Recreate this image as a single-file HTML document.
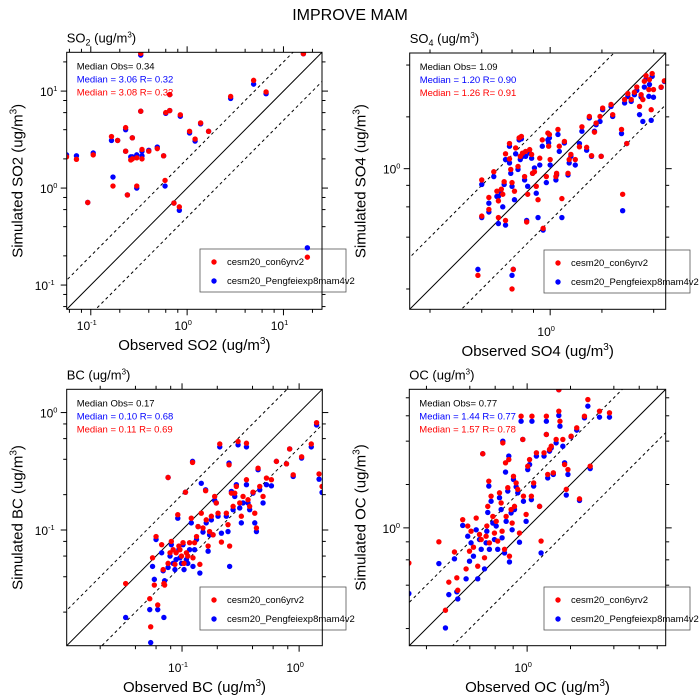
<!DOCTYPE html>
<html><head><meta charset="utf-8"><style>
html,body{margin:0;padding:0;background:#fff;overflow:hidden;}
svg{display:block;font-family:"Liberation Sans",sans-serif;}
</style></head><body>
<svg id="chart" width="700" height="700" viewBox="0 0 700 700" xmlns="http://www.w3.org/2000/svg">
<text x="350" y="20" font-size="16" text-anchor="middle">IMPROVE MAM</text>
</svg>
<script>
// ---- SO2 data ----
const so2Obs = [0.056,0.071,0.106,0.093,0.164,0.17,0.19,0.23,0.23,0.24,0.26,0.27,0.27,0.30,0.30,0.33,0.33,0.34,0.34,0.40,0.49,0.57,0.59,0.60,0.66,0.66,0.73,0.83,0.85,1.06,1.21,1.38,1.67,2.83,4.9,6.6,16.1,17.7];
const so2Red = [2.1,1.98,2.2,0.71,3.4,1.05,3.1,4.2,2.4,0.85,1.95,3.3,2.0,2.05,1.05,6.2,24.5,2.5,2.0,2.4,2.55,2.15,1.2,6.0,9.2,6.3,0.7,0.64,5.7,3.85,3.2,4.7,3.85,8.8,12.9,9.8,24.3,0.194];
const so2Blue = [2.2,2.15,2.3,0.71,3.1,1.3,3.1,4.0,2.4,0.85,2.1,3.3,2.1,2.2,1.0,6.2,23.5,2.4,2.15,2.45,2.65,2.15,1.05,5.9,9.2,6.3,0.7,0.59,5.5,3.7,3.05,4.6,3.85,8.4,11.8,9.4,24.3,0.242];
// ---- SO4 data ----
const so4Obs = [0.40,0.40,0.38,0.44,0.44,0.47,0.49,0.50,0.50,0.52,0.53,0.54,0.55,0.55,0.58,0.58,0.59,0.60,0.60,0.61,0.62,0.63,0.65,0.66,0.67,0.68,0.69,0.71,0.72,0.73,0.74,0.76,0.78,0.79,0.81,0.83,0.85,0.87,0.90,0.91,0.95,0.97,0.98,0.99,1.0,1.08,1.09,1.11,1.13,1.17,1.21,1.27,1.29,1.32,1.40,1.48,1.53,1.63,1.69,1.74,1.81,1.85,1.95,1.98,2.02,2.26,2.31,2.60,2.64,2.71,2.79,2.83,2.96,3.09,3.19,3.31,3.38,3.46,3.53,3.61,3.75,3.78,3.87,3.92,3.99,4.42,4.62];
const so4Red = [0.86,0.53,0.24,0.68,0.58,0.96,0.74,0.65,0.52,0.76,0.71,0.84,0.50,1.22,1.40,1.14,0.99,0.83,0.20,0.26,0.74,1.32,1.03,1.51,1.18,1.54,1.23,0.90,1.26,0.49,0.71,1.29,1.21,0.94,0.96,0.79,0.66,1.15,1.47,0.45,0.90,1.61,1.35,1.58,1.13,0.90,0.94,1.69,1.35,0.67,1.44,0.94,1.13,1.21,1.13,1.34,1.75,1.33,2.01,1.19,1.63,1.84,2.01,1.18,2.25,2.36,2.06,1.69,0.71,2.52,1.40,2.73,2.52,2.78,2.98,2.30,2.69,2.52,3.22,3.47,2.88,3.29,2.20,3.57,2.88,2.98,3.24];
const so4Blue = [0.81,0.52,0.26,0.63,0.56,0.90,0.69,0.69,0.48,0.72,0.60,0.81,0.47,1.13,1.35,1.08,0.94,0.79,0.24,0.26,0.66,1.22,0.99,1.47,1.13,1.49,1.18,0.86,1.18,0.50,0.79,1.23,1.15,0.94,1.01,0.72,0.52,1.05,1.35,0.44,0.83,1.47,1.41,1.51,1.05,0.86,0.92,1.58,1.26,0.52,1.41,0.92,1.08,1.18,1.05,1.40,1.65,1.28,1.97,1.18,1.65,1.80,1.88,1.18,2.20,2.30,2.01,1.60,0.57,2.41,1.40,2.63,2.46,2.69,2.85,2.06,2.61,1.88,2.98,3.32,2.63,3.08,1.91,3.44,2.60,2.97,3.21];
// ---- BC data ----
const bcObs = [0.033,0.054,0.053,0.056,0.058,0.060,0.062,0.067,0.069,0.070,0.071,0.076,0.076,0.079,0.081,0.084,0.087,0.089,0.092,0.094,0.096,0.099,0.102,0.104,0.107,0.109,0.112,0.116,0.120,0.123,0.124,0.128,0.133,0.137,0.142,0.146,0.151,0.159,0.161,0.167,0.172,0.178,0.184,0.19,0.196,0.203,0.21,0.217,0.239,0.247,0.252,0.255,0.264,0.273,0.282,0.291,0.301,0.311,0.321,0.332,0.355,0.355,0.366,0.378,0.404,0.418,0.432,0.446,0.461,0.492,0.526,0.58,0.64,0.78,0.83,0.89,1.05,1.27,1.41,1.48,1.57];
const bcRed = [0.035,0.015,0.026,0.058,0.034,0.088,0.023,0.075,0.046,0.035,0.034,0.28,0.052,0.064,0.080,0.068,0.051,0.064,0.135,0.073,0.068,0.060,0.078,0.052,0.21,0.064,0.060,0.078,0.126,0.376,0.058,0.078,0.088,0.107,0.051,0.139,0.104,0.216,0.122,0.073,0.097,0.131,0.091,0.193,0.17,0.139,0.54,0.079,0.139,0.111,0.359,0.073,0.206,0.159,0.206,0.235,0.567,0.17,0.131,0.193,0.548,0.268,0.181,0.159,0.21,0.139,0.104,0.336,0.235,0.193,0.277,0.268,0.384,0.366,0.49,0.295,0.42,0.54,0.82,0.30,0.235];
const bcBlue = [0.018,0.011,0.021,0.049,0.038,0.083,0.021,0.064,0.045,0.018,0.037,0.28,0.048,0.060,0.075,0.052,0.046,0.056,0.126,0.068,0.058,0.052,0.075,0.046,0.21,0.056,0.052,0.068,0.115,0.384,0.049,0.068,0.083,0.107,0.043,0.25,0.096,0.22,0.115,0.066,0.091,0.122,0.091,0.179,0.17,0.131,0.51,0.094,0.131,0.097,0.371,0.049,0.213,0.149,0.193,0.243,0.531,0.154,0.115,0.17,0.51,0.243,0.17,0.149,0.206,0.115,0.097,0.326,0.22,0.17,0.243,0.238,0.384,0.366,0.49,0.286,0.41,0.51,0.785,0.271,0.209];
// ---- OC data ----
const ocObs = [0.151,0.244,0.271,0.286,0.313,0.325,0.33,0.357,0.377,0.387,0.398,0.408,0.424,0.443,0.454,0.467,0.48,0.492,0.506,0.519,0.525,0.533,0.542,0.547,0.562,0.578,0.593,0.61,0.625,0.643,0.66,0.67,0.678,0.697,0.708,0.715,0.734,0.746,0.754,0.774,0.787,0.804,0.817,0.839,0.861,0.885,0.908,0.933,0.943,0.984,1.01,1.04,1.07,1.08,1.11,1.16,1.22,1.25,1.31,1.36,1.36,1.39,1.43,1.47,1.52,1.59,1.66,1.69,1.77,1.82,1.87,1.92,2.02,2.21,2.31,2.50,2.64,2.74,3.18,3.73,1.66];
const ocRed = [0.57,0.80,0.268,0.42,0.68,0.45,0.369,1.14,0.519,1.03,0.689,0.948,0.734,1.17,0.542,0.90,0.83,3.27,0.62,0.875,1.03,1.41,2.11,0.787,1.66,1.20,0.92,1.11,0.81,1.75,1.49,0.948,3.89,0.71,2.83,1.20,1.90,2.98,0.636,1.34,1.08,2.28,1.41,2.05,1.85,0.92,5.96,4.11,1.66,1.24,2.68,2.98,1.66,5.96,2.05,3.32,1.41,0.81,3.32,5.96,4.45,2.35,3.50,3.69,2.41,4.11,6.46,5.5,4.11,2.75,1.85,2.54,4.33,4.95,1.59,5.96,7.78,2.68,6.46,6.29,9.1];
const ocBlue = [0.35,0.565,0.202,0.344,0.61,0.36,0.321,1.04,0.443,0.875,0.587,0.787,0.636,0.97,0.443,0.83,0.71,3.27,0.519,0.787,0.948,1.28,1.95,0.71,1.53,1.08,0.83,1.03,0.71,1.62,1.34,0.853,4.0,0.67,2.44,1.11,1.80,3.15,0.58,1.27,0.97,2.17,1.34,1.93,1.75,0.795,5.5,4.11,1.53,1.11,2.54,2.75,1.57,5.5,1.95,3.15,1.41,0.67,3.15,5.5,4.45,2.22,3.41,3.59,2.35,3.89,6.03,5.08,3.69,2.83,1.69,2.35,4.29,4.77,1.55,5.81,7.0,2.58,5.87,5.87,9.1];

// ---- panel text ----
const panelNames = ["SO2","SO4","BC","OC"];
const medObs = ["0.34","1.09","0.17","0.77"];
const medBlue = ["3.06","1.20","0.10","1.44"];
const rBlue = ["0.32","0.90","0.68","0.77"];
const medRed = ["3.08","1.26","0.11","1.57"];
const rRed = ["0.32","0.91","0.69","0.78"];

const NS = "http://www.w3.org/2000/svg";
const svg = document.getElementById("chart");
function el(tag, attrs, parent){
  const e = document.createElementNS(NS, tag);
  for (const k in attrs) e.setAttribute(k, attrs[k]);
  (parent||svg).appendChild(e);
  return e;
}
function sciLabel(parent, x, y, exp, anchor, size){
  const t = el("text",{x:x,y:y,"font-size":size,"text-anchor":anchor},parent);
  t.appendChild(document.createTextNode("10"));
  const s = el("tspan",{dy:-5,"font-size":size*0.62},t);
  s.textContent = exp;
  return t;
}

const layouts = [
  {x0:66.7,x1:322,y0:52.3,y1:309.3,lmin:-1.25,lmax:1.40,majors:[-1,0,1],name:"so2",obs:so2Obs,red:so2Red,blue:so2Blue,xt:330,yt:62,title:"SO",sub:"2",xlab:"Observed SO2",ylab:"Simulated SO2",lx:200,ly:249},
  {x0:409.7,x1:665.7,y0:53,y1:309.3,lmin:-0.817,lmax:0.672,majors:[0],name:"so4",obs:so4Obs,red:so4Red,blue:so4Blue,xt:336,yt:402,title:"SO",sub:"4",xlab:"Observed SO4",ylab:"Simulated SO4",lx:544,ly:250},
  {x0:66.7,x1:322.3,y0:389.3,y1:645.7,lmin:-1.985,lmax:0.198,majors:[-1,0],name:"bc",obs:bcObs,red:bcRed,blue:bcBlue,xt:672,yt:62,title:"BC",sub:"",xlab:"Observed BC",ylab:"Simulated BC",lx:200,ly:587},
  {x0:409.3,x1:665.7,y0:389.3,y1:645.7,lmin:-0.818,lmax:0.962,majors:[0],name:"oc",obs:ocObs,red:ocRed,blue:ocBlue,xt:672,yt:402,title:"OC",sub:"",xlab:"Observed OC",ylab:"Simulated OC",lx:544,ly:587}
];

layouts.forEach((P,i)=>{
  const g = el("g",{});
  
  
  const sx = v => P.x0 + (Math.log10(v)-P.lmin)/(P.lmax-P.lmin)*(P.x1-P.x0);
  const sy = v => P.y1 - (Math.log10(v)-P.lmin)/(P.lmax-P.lmin)*(P.y1-P.y0);
  const clip = el("clipPath",{id:"clip"+i},g);
  el("rect",{x:P.x0,y:P.y0,width:P.x1-P.x0,height:P.y1-P.y0},clip);
  // reference lines
  const lines = el("g",{"clip-path":"url(#clip"+i+")"},g);
  const lo = Math.pow(10,P.lmin-1), hi = Math.pow(10,P.lmax+1);
  [[1,"none"],[2,"3,3"],[0.5,"3,3"]].forEach(([f,d])=>{
    const l = el("line",{x1:sx(lo),y1:sy(lo*f),x2:sx(hi),y2:sy(hi*f),stroke:"#000","stroke-width":1,"stroke-dasharray":d},lines);
    
    
  });
  // ticks
  const ticks = el("g",{stroke:"#000","stroke-width":1},g);
  for (let d=Math.floor(P.lmin)-1; d<=Math.ceil(P.lmax); d++){
    [1,2,4,6,8].forEach(m=>{
      const v = m*Math.pow(10,d), lv = Math.log10(v);
      if (lv<P.lmin-1e-6 || lv>P.lmax+1e-6) return;
      const len = m===1?6:3.5;
      const x = sx(v), y = sy(v);
      el("line",{x1:x,y1:P.y1,x2:x,y2:P.y1+len},ticks);
      el("line",{x1:x,y1:P.y0,x2:x,y2:P.y0-len},ticks);
      el("line",{x1:P.x0,y1:y,x2:P.x0-len,y2:y},ticks);
      el("line",{x1:P.x1,y1:y,x2:P.x1+len,y2:y},ticks);
    });
  }
  P.majors.forEach(e=>{
    const v = Math.pow(10,e);
    const tx = sciLabel(g, sx(v)-4, P.xt, String(e), "middle", 12);
    
    
    const ty = sciLabel(g, P.x0-(e<0?22:18), sy(v)+5, String(e), "middle", 12);
    
    
  });
  // legend (drawn under points)
  const lg = el("g",{},g);
  
  
  el("rect",{x:P.lx,y:P.ly,width:146,height:43,fill:"#fff",stroke:"#555","stroke-width":0.8},lg);
  [["cesm20_con6yrv2","#ff0000"],["cesm20_Pengfeiexp8mam4v2","#0000ff"]].forEach((e,k)=>{
    const ent = el("g",{},lg);
    
    
    el("circle",{cx:P.lx+14,cy:P.ly+13+k*19,r:2.7,fill:e[1]},ent);
    const lt = el("text",{x:P.lx+27,y:P.ly+16+k*19,"font-size":9.5},ent);
    lt.textContent = e[0];
  });
  // points
  const pts = el("g",{"clip-path":"url(#clip"+i+")"},g);
  P.obs.forEach((o,k)=>{
    const b = el("circle",{cx:sx(o),cy:sy(P.blue[k]),r:2.7,fill:"#0000ff"},pts);
    
    
  });
  P.obs.forEach((o,k)=>{
    const r = el("circle",{cx:sx(o),cy:sy(P.red[k]),r:2.7,fill:"#ff0000"},pts);
    
    
  });
  // frame
  const fr = el("rect",{x:P.x0,y:P.y0,width:P.x1-P.x0,height:P.y1-P.y0,fill:"none",stroke:"#000","stroke-width":1},g);
  
  
  // panel title
  const t = el("text",{x:P.x0,y:P.y0-10,"font-size":13},g);
  
  
  t.appendChild(document.createTextNode(P.title));
  if (P.sub){ const s = el("tspan",{dy:3,"font-size":9},t); s.textContent=P.sub; const s2 = el("tspan",{dy:-3,"font-size":13},t); s2.textContent=" (ug/m"; }
  else { t.appendChild(document.createTextNode(" (ug/m")); }
  const s3 = el("tspan",{dy:-5,"font-size":8},t); s3.textContent="3";
  const s4 = el("tspan",{dy:5,"font-size":13},t); s4.textContent=")";
  // stats
  const st = [["Median Obs= "+medObs[i],"#000"],["Median = "+medBlue[i]+" R= "+rBlue[i],"#0000ff"],["Median = "+medRed[i]+" R= "+rRed[i],"#ff0000"]];
  st.forEach((s,k)=>{
    const tt = el("text",{x:P.x0+10,y:P.y0+17+k*13,"font-size":9.5,fill:s[1]},g);
    
    
    tt.textContent = s[0];
  });
  // axis labels
  const xl = el("text",{x:(P.x0+P.x1)/2,y:P.xt+20,"font-size":15,"text-anchor":"middle"},g);
  
  
  xl.appendChild(document.createTextNode(P.xlab+" (ug/m"));
  const xs = el("tspan",{dy:-6,"font-size":10},xl); xs.textContent="3";
  const xs2 = el("tspan",{dy:6},xl); xs2.textContent=")";
  const yc = (P.y0+P.y1)/2, yx = P.x0-44;
  const yl = el("text",{x:yx,y:yc,"font-size":15,"text-anchor":"middle",transform:"rotate(-90 "+yx+" "+yc+")"},g);
  
  
  yl.appendChild(document.createTextNode(P.ylab+" (ug/m"));
  const ys = el("tspan",{dy:-6,"font-size":10},yl); ys.textContent="3";
  const ys2 = el("tspan",{dy:6},yl); ys2.textContent=")";
});
</script>
</body></html>
